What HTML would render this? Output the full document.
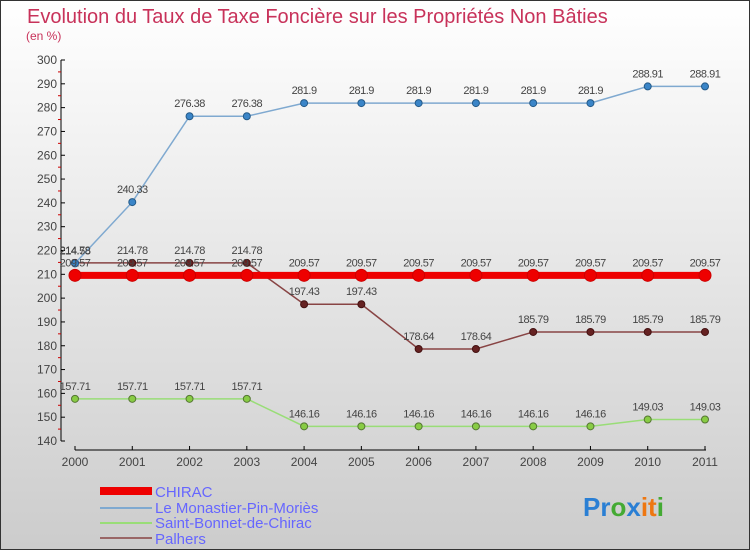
<!DOCTYPE html>
<html><head><meta charset="utf-8"><style>
body{margin:0;}
#c{width:750px;height:550px;position:relative;overflow:hidden;font-family:"Liberation Sans",sans-serif;}
</style></head><body>
<div id="c">
<svg id="s" width="750" height="550" xmlns="http://www.w3.org/2000/svg">
<defs><linearGradient id="bg" x1="0" y1="0" x2="0" y2="1"><stop offset="0" stop-color="#ffffff"/><stop offset="1" stop-color="#cccccc"/></linearGradient></defs>
<rect x="0.5" y="0.5" width="749" height="549" fill="url(#bg)" stroke="#333"/>
<text x="27" y="23" font-size="20" fill="#c8325a">Evolution du Taux de Taxe Foncière sur les Propriétés Non Bâties</text>
<text x="26" y="40" font-size="12" fill="#c8325a">(en %)</text>
<g id="axes"></g><g id="series"></g>
<g>
<rect x="100" y="487" width="52" height="8" fill="#e00"/>
<text x="155" y="497" font-size="15" fill="#6666ff">CHIRAC</text>
<line x1="100" y1="508" x2="152" y2="508" stroke="#7fa9d0" stroke-width="2"/>
<text x="155" y="513" font-size="15" fill="#6666ff">Le Monastier-Pin-Moriès</text>
<line x1="100" y1="523" x2="152" y2="523" stroke="#99dd77" stroke-width="2"/>
<text x="155" y="528" font-size="15" fill="#6666ff">Saint-Bonnet-de-Chirac</text>
<line x1="100" y1="538" x2="152" y2="538" stroke="#996666" stroke-width="2"/>
<text x="155" y="544" font-size="15" fill="#6666ff">Palhers</text>
</g>
<text x="583" y="516" font-size="26" font-weight="bold"><tspan fill="#2a7fd4">Pr</tspan><tspan fill="#44aa33">o</tspan><tspan fill="#2a7fd4">x</tspan><tspan fill="#ee7711">it</tspan><tspan fill="#44aa33">i</tspan></text>
</svg></div>
<script>
const years=["2000","2001","2002","2003","2004","2005","2006","2007","2008","2009","2010","2011"];
const yTicks=[140,150,160,170,180,190,200,210,220,230,240,250,260,270,280,290,300];
const chirac=[209.57,209.57,209.57,209.57,209.57,209.57,209.57,209.57,209.57,209.57,209.57,209.57];
const monastier=[214.58,240.33,276.38,276.38,281.9,281.9,281.9,281.9,281.9,281.9,288.91,288.91];
const saintBonnet=[157.71,157.71,157.71,157.71,146.16,146.16,146.16,146.16,146.16,146.16,149.03,149.03];
const palhers=[214.78,214.78,214.78,214.78,197.43,197.43,178.64,178.64,185.79,185.79,185.79,185.79];
const NS="http://www.w3.org/2000/svg";
function X(i){return 75+i*(705-75)/11;}
function Y(v){return 441-(v-140)*(441-60)/160;}
function mk(t,a,p){const e=document.createElementNS(NS,t);for(const k in a)e.setAttribute(k,a[k]);p.appendChild(e);return e;}
const ax=document.getElementById('axes');
let yl=mk('line',{x1:61,y1:60,x2:61,y2:441,stroke:'#000'},ax);


yTicks.forEach(v=>{
 const t=mk('line',{x1:61,y1:Y(v),x2:65,y2:Y(v),stroke:'#000'},ax);
 
 
 if(v<300){const m=mk('line',{x1:58,y1:Y(v+5),x2:61,y2:Y(v+5),stroke:'#c00'},ax);
 
 }
 const l=mk('text',{x:57,y:Y(v)+4,'font-size':12,fill:'#444','text-anchor':'end'},ax);
 l.textContent=v;
 
 
});
let xl=mk('line',{x1:75,y1:450,x2:706,y2:450,stroke:'#000'},ax);


years.forEach((y,i)=>{
 const t=mk('line',{x1:X(i),y1:446,x2:X(i),y2:450,stroke:'#000'},ax);
 
 
 const l=mk('text',{x:X(i),y:466,'font-size':12,fill:'#444','text-anchor':'middle'},ax);
 l.textContent=y;
 
 
});
const sg=document.getElementById('series');
function series(name,data,color,w,r,fill,stroke){
 const g=mk('g',{},sg);
 
 
 const pl=mk('polyline',{points:data.map((v,i)=>X(i)+','+Y(v)).join(' '),fill:'none',stroke:color,'stroke-width':w},g);
 
 
 data.forEach((v,i)=>{
  const c=mk('circle',{cx:X(i),cy:Y(v),r:r,fill:fill,stroke:stroke,'stroke-width':1},g);
  
  
  const t=mk('text',{x:X(i),y:Y(v)-9,'font-size':11,fill:'#444','text-anchor':'middle','letter-spacing':'-0.5'},g);
  t.textContent=String(v);
  
  
 });
}
series('saint-bonnet',saintBonnet,'#99dd77',1.5,3.5,'#88cc44','#557733');
series('palhers',palhers,'#884444',1.5,3.5,'#662222','#441111');
series('monastier',monastier,'#7fa9d0',1.5,3.5,'#3a85c8','#245a88');
series('chirac',chirac,'#ee0000',7,6,'#ee0000','#cc0000');
</script>
</body></html>
